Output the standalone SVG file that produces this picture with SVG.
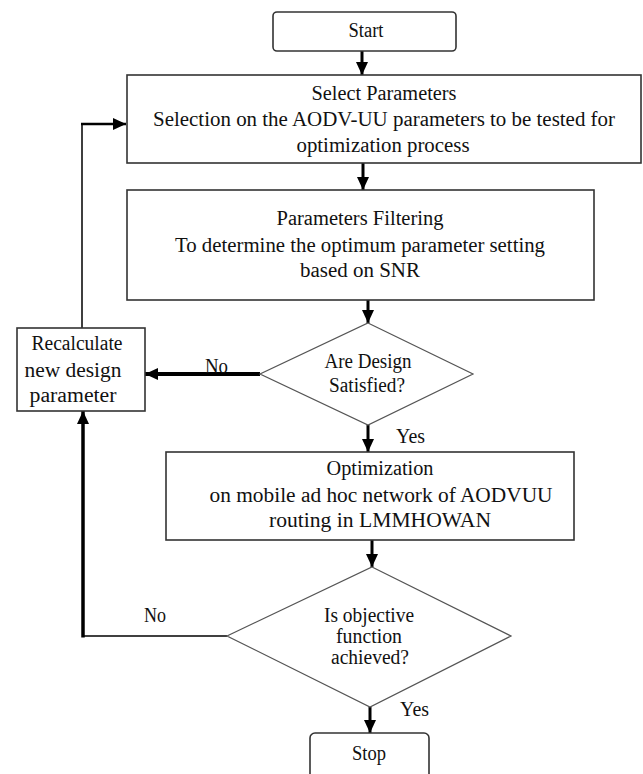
<svg xmlns="http://www.w3.org/2000/svg" width="643" height="774" viewBox="0 0 643 774">
<defs>
<style>
.box{fill:#fff;stroke:#333;stroke-width:1.6}
.dia{fill:#fff;stroke:#555;stroke-width:1.2}
.t{font-family:"Liberation Serif","Times New Roman",serif;font-size:20px;fill:#111;text-anchor:middle}
.l{font-family:"Liberation Serif","Times New Roman",serif;font-size:20px;fill:#111}
.c{fill:none;stroke:#000}
</style>
<marker id="ah" markerUnits="userSpaceOnUse" markerWidth="14" markerHeight="14" viewBox="0 0 14 14" refX="13" refY="7" orient="auto">
<path d="M0,1 L13,7 L0,13 Z" fill="#000"/>
</marker>
</defs>
<rect width="643" height="774" fill="#fff"/>

<g id="connectors">
<line class="c" x1="362" y1="51" x2="362" y2="75" stroke-width="3" marker-end="url(#ah)"/>
<line class="c" x1="363" y1="163" x2="363" y2="190" stroke-width="3" marker-end="url(#ah)"/>
<line class="c" x1="368" y1="300" x2="368" y2="323" stroke-width="3" marker-end="url(#ah)"/>
<line class="c" x1="260" y1="374" x2="145" y2="374" stroke-width="4" marker-end="url(#ah)"/>
<polyline class="c" points="82,328 82,124 100,124" stroke-width="1.5"/>
<line class="c" x1="81" y1="124" x2="126" y2="124" stroke-width="2.5" marker-end="url(#ah)"/>
<line class="c" x1="368" y1="425" x2="368" y2="452" stroke-width="3" marker-end="url(#ah)"/>
<line class="c" x1="372" y1="540" x2="372" y2="567" stroke-width="3" marker-end="url(#ah)"/>
<line class="c" x1="227" y1="636" x2="83" y2="636" stroke-width="1.5"/>
<line class="c" x1="83" y1="637.5" x2="83" y2="411" stroke-width="3.5" marker-end="url(#ah)"/>
<line class="c" x1="370" y1="707" x2="370" y2="733" stroke-width="3" marker-end="url(#ah)"/>
<text class="l" x="205" y="373" textLength="23" lengthAdjust="spacingAndGlyphs">No</text>
<text class="l" x="144" y="622" textLength="22" lengthAdjust="spacingAndGlyphs">No</text>
<text class="l" x="396" y="443" textLength="29" lengthAdjust="spacingAndGlyphs">Yes</text>
<text class="l" x="400" y="716" textLength="29" lengthAdjust="spacingAndGlyphs">Yes</text>
</g>

<g id="start">
<rect class="box" x="273" y="12" width="183" height="39" rx="4"/>
<text class="t" x="366" y="37" textLength="35" lengthAdjust="spacingAndGlyphs">Start</text>
</g>

<g id="select">
<rect class="box" x="127" y="75" width="514" height="88"/>
<text class="t" x="384" y="100" textLength="145" lengthAdjust="spacingAndGlyphs">Select  Parameters</text>
<text class="t" x="384" y="126" textLength="462" lengthAdjust="spacingAndGlyphs">Selection  on the AODV-UU parameters  to be tested for</text>
<text class="t" x="383" y="152" textLength="173" lengthAdjust="spacingAndGlyphs">optimization  process</text>
</g>

<g id="filter">
<rect class="box" x="127" y="190" width="467" height="110"/>
<text class="t" x="360" y="225" textLength="167" lengthAdjust="spacingAndGlyphs">Parameters  Filtering</text>
<text class="t" x="360" y="252" textLength="370" lengthAdjust="spacingAndGlyphs">To determine  the  optimum  parameter  setting</text>
<text class="t" x="360" y="277" textLength="120" lengthAdjust="spacingAndGlyphs">based on SNR</text>
</g>

<g id="decision1">
<polygon class="dia" points="368,323 473,374 368,425 260,374"/>
<text class="t" x="368" y="368" textLength="87" lengthAdjust="spacingAndGlyphs">Are Design</text>
<text class="t" x="367" y="392" textLength="76" lengthAdjust="spacingAndGlyphs">Satisfied?</text>
</g>

<g id="recalculate">
<rect class="box" x="17" y="328" width="128" height="83"/>
<text class="t" x="77" y="350" textLength="91" lengthAdjust="spacingAndGlyphs">Recalculate</text>
<text class="t" x="73" y="377" textLength="97" lengthAdjust="spacingAndGlyphs">new  design</text>
<text class="t" x="73" y="402" textLength="87" lengthAdjust="spacingAndGlyphs">parameter</text>
</g>

<g id="optimization">
<rect class="box" x="166" y="452" width="408" height="88"/>
<text class="t" x="380" y="475" textLength="107" lengthAdjust="spacingAndGlyphs">Optimization</text>
<text class="t" x="381" y="502" textLength="343" lengthAdjust="spacingAndGlyphs">on mobile  ad hoc network of AODVUU</text>
<text class="t" x="380" y="527" textLength="222" lengthAdjust="spacingAndGlyphs">routing  in  LMMHOWAN</text>
</g>

<g id="decision2">
<polygon class="dia" points="372,567 511,636 370,707 227,636"/>
<text class="t" x="369" y="622" textLength="90" lengthAdjust="spacingAndGlyphs">Is objective</text>
<text class="t" x="369" y="643" textLength="66" lengthAdjust="spacingAndGlyphs">function</text>
<text class="t" x="370" y="664" textLength="78" lengthAdjust="spacingAndGlyphs">achieved?</text>
</g>

<g id="stop">
<rect class="box" x="310" y="733" width="119" height="50" rx="5"/>
<text class="t" x="369" y="760" textLength="34" lengthAdjust="spacingAndGlyphs">Stop</text>
</g>
</svg>
